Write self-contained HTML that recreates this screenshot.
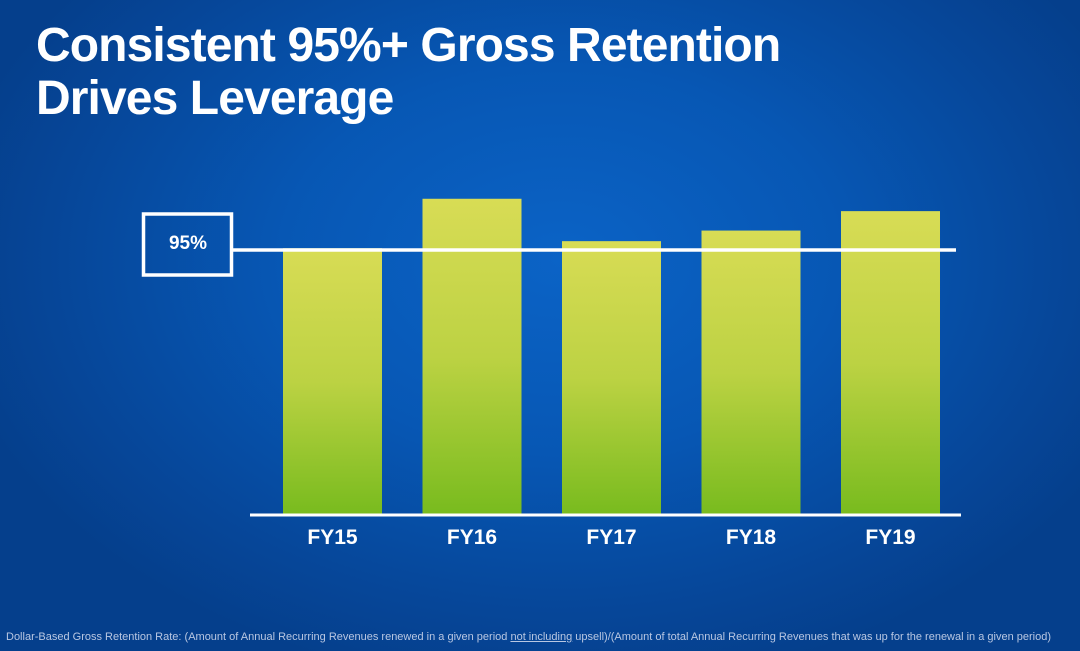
<!DOCTYPE html>
<html><head><meta charset="utf-8"><style>
html,body{margin:0;padding:0}
body{width:1080px;height:651px;overflow:hidden;position:relative;font-family:"Liberation Sans",sans-serif;
background:radial-gradient(ellipse 620px 430px at 560px 260px,#0b63c6 0%,#0757b4 45%,#06479a 80%,#053f8c 100%);}
h1{position:absolute;left:36px;top:19px;margin:0;color:#fff;font-size:48px;line-height:53px;font-weight:bold;letter-spacing:-0.9px}
#foot{position:absolute;left:6px;top:631px;font-size:11px;color:#b9c7e2;white-space:nowrap}
</style></head><body>
<h1>Consistent 95%+ Gross Retention<br>Drives Leverage</h1>
<svg id="chart" width="1080" height="651" style="position:absolute;left:0;top:0">
<defs><linearGradient id="g" x1="0" y1="0" x2="0" y2="1">
<stop offset="0" stop-color="#d8dc55"/><stop offset="0.5" stop-color="#bcd243"/><stop offset="1" stop-color="#78bb1e"/></linearGradient></defs>
</svg>
<div id="foot">Dollar-Based Gross Retention Rate: (Amount of Annual Recurring Revenues renewed in a given period <u>not including</u> upsell)/(Amount of total Annual Recurring Revenues that was up for the renewal in a given period)</div>
<script>
const categories=["FY15","FY16","FY17","FY18","FY19"];
const values=[95.1,97.9,95.5,96.1,97.2];
const threshold=[95];
const labelText=["95%"];
const svg=document.getElementById('chart');
const NS="http://www.w3.org/2000/svg";
const yMin=80,yMax=95,y0=515,y1=250;
function y(v){return y0+(v-yMin)*(y1-y0)/(yMax-yMin);}
function x(i){return 332.5+i*139.5;}
const bw=99;
function mk(t,a){const e=document.createElementNS(NS,t);for(const k in a)e.setAttribute(k,a[k]);svg.appendChild(e);return e;}
categories.forEach((c,i)=>{
 const r=mk('rect',{x:x(i)-bw/2,y:y(values[i]),width:bw,height:y0-y(values[i]),fill:'url(#g)'});
 
 
 const t=mk('text',{x:x(i),y:544,'text-anchor':'middle',fill:'#fff','font-size':21,'font-weight':'bold','font-family':'Liberation Sans, sans-serif'});
 t.textContent=c;
 
 
});
const base=mk('line',{x1:250,x2:961,y1:y0,y2:y0,stroke:'#fff','stroke-width':3});


const ty=y(threshold[0]);
const tl=mk('line',{x1:232,x2:956,y1:ty,y2:ty,stroke:'#fff','stroke-width':3.5});


const box=mk('rect',{x:143.5,y:ty-36,width:88,height:61,fill:'none',stroke:'#fff','stroke-width':3.5});


const bt=mk('text',{x:188,y:ty-1,'text-anchor':'middle',fill:'#fff','font-size':19,'font-weight':'bold','font-family':'Liberation Sans, sans-serif'});
bt.textContent=labelText[0];


</script>
</body></html>
